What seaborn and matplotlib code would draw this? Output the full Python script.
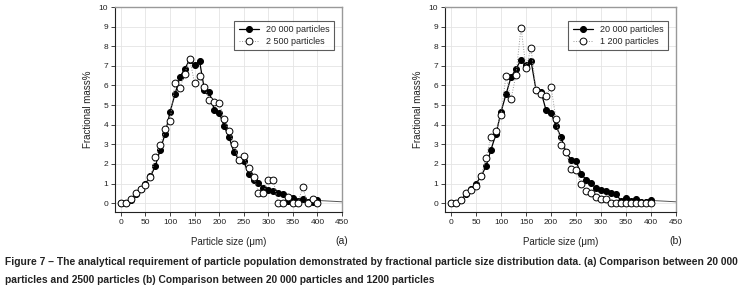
import numpy as np
import matplotlib
matplotlib.use("Agg")
import matplotlib.pyplot as plt
import seaborn as sns

# particle sizes (um), one point every 10 um
size = list(range(0, 410, 10))

# 20 000 particles, same reference curve in both panels
p20000 = [0.0, 0.02, 0.18, 0.45, 0.7, 1.0, 1.36, 1.88, 2.73, 3.53, 4.65, 5.55, 6.42, 6.85, 7.31,
          7.02, 7.26, 5.78, 5.68, 4.75, 4.62, 3.93, 3.37, 2.6, 2.22, 2.13, 1.5, 1.2, 1.05, 0.75,
          0.65, 0.64, 0.51, 0.47, 0.12, 0.28, 0.1, 0.21, 0.06, 0.08, 0.14]
# the line carries on past 400 um without markers
tail_x = [400, 450, 500]
tail_y = [0.14, 0.07, 0.03]

# 2 500 particles (a)
p2500 = [0.0, 0.0, 0.2, 0.53, 0.73, 0.94, 1.33, 2.36, 2.94, 3.78, 4.2, 6.12, 5.87, 6.6, 7.36,
         6.12, 6.46, 5.92, 5.24, 5.17, 5.12, 4.27, 3.69, 3.04, 2.19, 2.38, 1.77, 1.34, 0.54, 0.54,
         1.16, 1.19, 0.0, 0.0, 0.3, 0.0, 0.0, 0.8, 0.0, 0.2, 0.0]

# 1 200 particles (b)
p1200 = [0.0, 0.0, 0.18, 0.52, 0.66, 0.86, 1.38, 2.3, 3.38, 3.7, 4.5, 6.5, 5.3, 6.55, 8.95,
         6.9, 7.9, 5.78, 5.58, 5.46, 5.94, 4.3, 2.96, 2.6, 1.75, 1.67, 1.0, 0.63, 0.51, 0.31,
         0.2, 0.2, 0.0, 0.0, 0.0, 0.0, 0.0, 0.0, 0.0, 0.0, 0.0]

panels = [("(a)", p2500, "2 500 particles"), ("(b)", p1200, "1 200 particles")]

sns.set_theme(style="ticks")
plt.rcParams["font.family"] = ["Liberation Sans", "DejaVu Sans"]

fig = plt.figure(figsize=(7.39, 3.05), dpi=100)
boxes = [[115 / 739, 1 - 212 / 305, 227 / 739, 205 / 305],
         [445 / 739, 1 - 212 / 305, 231 / 739, 205 / 305]]

for box, (tag, small, lab) in zip(boxes, panels):
    ax = fig.add_axes(box)
    ax.grid(True, color="#e4e4e4", lw=0.6)
    ax.set_axisbelow(True)
    sns.lineplot(x=tail_x, y=tail_y, ax=ax, color="#555555", lw=0.7, zorder=2)
    sns.lineplot(x=size, y=p20000, ax=ax, color="black", lw=0.9, marker="o", markersize=4.3,
                 markerfacecolor="black", markeredgecolor="black", label="20 000 particles", zorder=3)
    sns.lineplot(x=size, y=small, ax=ax, color="#999999", lw=0.7, linestyle=":", marker="o",
                 markersize=4.9, markerfacecolor="white", markeredgecolor="black",
                 markeredgewidth=0.7, label=lab, zorder=4)
    ax.set_xlim(-12, 450)
    ax.set_ylim(-0.45, 10)
    ax.set_xticks(range(0, 451, 50))
    ax.set_yticks(range(0, 11))
    ax.tick_params(labelsize=6, colors="#222222", length=3, width=0.6, pad=2)
    for s in ["left", "bottom"]:
        ax.spines[s].set_color("#222222")
        ax.spines[s].set_linewidth(0.8)
    for s in ["top", "right"]:
        ax.spines[s].set_visible(True)
        ax.spines[s].set_color("#999999")
        ax.spines[s].set_linewidth(1.0)
    ax.set_xlabel("Particle size (\u03bcm)", fontsize=7, color="#222222", labelpad=8)
    ax.set_ylabel("Fractional mass%", fontsize=7, color="#222222", labelpad=4)
    x_tag = box[0] + box[2]
    fig.text(x_tag, 1 - 241 / 305, tag, fontsize=7.5, color="#222222", ha="center", va="center")
    leg = ax.legend(loc="upper right", fontsize=6.5, frameon=True, fancybox=False,
                    edgecolor="#333333", borderpad=0.5, handlelength=2.2,
                    bbox_to_anchor=(0.985, 0.955), labelspacing=0.3)
    leg.get_frame().set_linewidth(0.8)

cap1 = ("Figure 7 \u2013 The analytical requirement of particle population demonstrated by fractional "
        "particle size distribution data. (a) Comparison between 20 000")
cap2 = "particles and 2500 particles (b) Comparison between 20 000 particles and 1200 particles"
t1 = fig.text(5 / 739, 1 - 262 / 305, cap1, fontsize=7.2, fontweight="bold", color="#222222",
              va="center", ha="left")
t2 = fig.text(5 / 739, 1 - 280 / 305, cap2, fontsize=7.2, fontweight="bold", color="#222222",
              va="center", ha="left")

# no condensed face available: shrink the caption so line one spans the page width
r = fig.canvas.get_renderer()
w = t1.get_window_extent(renderer=r).width
fs = 7.2 * 728 / w
t1.set_fontsize(fs)
t2.set_fontsize(fs)

fig.savefig("out.png", dpi=100)
